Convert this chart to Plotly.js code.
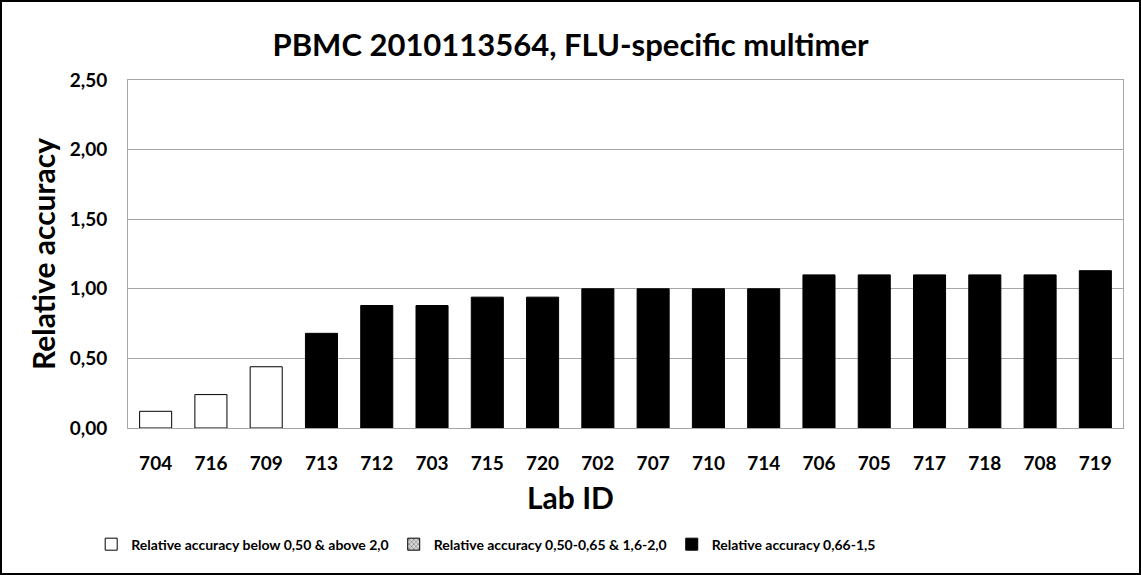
<!DOCTYPE html>
<html><head><meta charset="utf-8">
<script src="https://cdn.plot.ly/plotly-3.0.1.min.js"></script>
<style>
html,body{margin:0;padding:0;background:#fff;}
#wrap{width:1141px;height:575px;box-sizing:border-box;border:2px solid #000;overflow:hidden;}
#chart{width:1137px;height:571px;}
</style></head>
<body><div id="wrap"><div id="chart"></div></div>
<script>
const labIds = ["704","716","709","713","712","703","715","720","702","707","710","714","706","705","717","718","708","719"];
const relAccuracy = [0.12,0.24,0.44,0.68,0.88,0.88,0.94,0.94,1.00,1.00,1.00,1.00,1.10,1.10,1.10,1.10,1.10,1.13];
const seriesNames = ["Relative accuracy below 0,50 & above 2,0","Relative accuracy 0,50-0,65 & 1,6-2,0","Relative accuracy 0,66-1,5"];

function inRange(v, k){
  if (k===0) return (v<0.5 || v>2.0);
  if (k===1) return ((v>=0.5 && v<0.66) || (v>=1.6 && v<=2.0));
  return (v>=0.66 && v<1.6);
}
const styles = [
  {color:"#ffffff", line:{color:"#000000", width:1}},
  {color:"#bfbfbf", line:{color:"#000000", width:1}, pattern:{shape:"x", fgcolor:"#606060", bgcolor:"#d9d9d9", size:4, solidity:0.3}},
  {color:"#000000", line:{color:"#000000", width:1}}
];
const traces = seriesNames.map((nm,k)=>({
  type:"bar",
  name:nm,
  x:labIds,
  y:relAccuracy.map(v=>inRange(v,k)?v:null),
  marker:styles[k],
  hoverinfo:"x+y"
}));

const font = "Lato, 'Open Sans', sans-serif";
const layout = {
  width:1137, height:571,
  margin:{l:126, r:16, t:78, b:142},
  paper_bgcolor:"#fff", plot_bgcolor:"#fff",
  separators:",.",
  barmode:"overlay",
  bargap:0.42,
  font:{family:font, color:"#000"},
  title:{text:"<b>PBMC 2010113564, FLU-specific multimer</b>", x:0.5, xanchor:"center", y:0.925, yanchor:"middle", font:{size:31, family:font, color:"#000"}},
  xaxis:{
    type:"category", categoryorder:"array", categoryarray:labIds,
    showline:true, linecolor:"#a6a6a6", linewidth:1, mirror:true,
    ticks:"", ticklabelstandoff:18,
    tickfont:{size:19, family:font, color:"#000", weight:"bold"},
    fixedrange:true
  },
  yaxis:{
    range:[0,2.5], dtick:0.5, tick0:0, tickformat:".2f",
    showgrid:true, gridcolor:"#a6a6a6", gridwidth:1,
    showline:true, linecolor:"#a6a6a6", linewidth:1, mirror:true,
    zeroline:false,
    ticks:"", ticklabelstandoff:16,
    tickfont:{size:19, family:font, color:"#000", weight:"bold"},
    title:{text:"<b>Relative accuracy</b>", font:{size:30, family:font, color:"#000"}, standoff:5},
    fixedrange:true
  },
  annotations:[{
    text:"<b>Lab ID</b>", xref:"paper", yref:"paper", x:0.445, y:-0.198,
    xanchor:"center", yanchor:"middle", showarrow:false,
    font:{size:30, family:font, color:"#000"}
  }],
  showlegend:true,
  legend:{orientation:"h", x:0.36, xanchor:"center", y:-0.335, yanchor:"middle",
    font:{size:14, family:font, color:"#000", weight:"bold"}, traceorder:"normal",
    itemwidth:30, itemclick:false, itemdoubleclick:false}
};
Plotly.newPlot("chart", traces, layout, {displayModeBar:false, staticPlot:true});
</script></body></html>
